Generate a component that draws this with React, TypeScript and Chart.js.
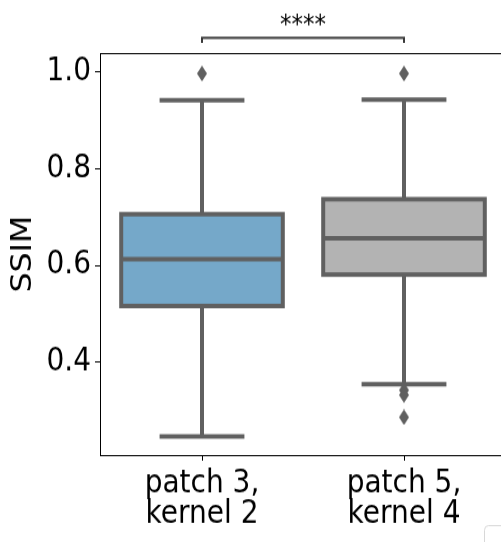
import { useEffect, useRef } from 'react';
import { Chart, registerables } from 'chart.js';

Chart.register(...registerables);

// Drawing surface: rendered at CANVAS_H and stretched vertically to VIEW_H.
const VIEW_W = 501;
const VIEW_H = 542;
const CANVAS_W = 520;
const CANVAS_H = 480;

const FONT = 'DejaVu Sans';

// Box plot summary per group
const categories = [
  ['patch 3,', 'kernel 2'],
  ['patch 5,', 'kernel 4'],
];
const lowerWhisker = [0.246, 0.354];
const lowerQuartile = [0.516, 0.581];
const medians = [0.613, 0.656];
const upperQuartile = [0.706, 0.737];
const upperWhisker = [0.942, 0.943];
const outliers = [[0.997], [0.997, 0.342, 0.332, 0.286]];

const yTicks = [0.4, 0.6, 0.8, 1.0];
const yMin = 0.2076;
const yMax = 1.0393;
const yTitle = 'SSIM';
const significance = '****';

const boxColors = ['#75a8c9', '#b3b3b3'];
const lineColor = '#606060';

function makeDiamond(w: number, h: number, color: string) {
  const c = document.createElement('canvas');
  c.width = w;
  c.height = h;
  const g = c.getContext('2d')!;
  g.fillStyle = color;
  g.beginPath();
  g.moveTo(w / 2, 0);
  g.lineTo(w, h / 2);
  g.lineTo(w / 2, h);
  g.lineTo(0, h / 2);
  g.closePath();
  g.fill();
  return c;
}

// Whiskers, caps, box outlines and medians, drawn right after the box fills
const boxLinesPlugin = {
  id: 'boxLines',
  afterDatasetDraw(chart: any, args: any) {
    if (args.index !== 0) return;
    const { ctx, scales } = chart;
    const x = scales.x;
    const y = scales.y;
    const step = x.getPixelForValue(1) - x.getPixelForValue(0);
    const halfBox = (step * 0.8) / 2;
    const halfCap = (step * 0.42) / 2;
    ctx.save();
    ctx.strokeStyle = lineColor;
    ctx.lineWidth = 4;
    ctx.lineCap = 'butt';
    categories.forEach((_, i) => {
      const cx = x.getPixelForValue(i);
      const yLo = y.getPixelForValue(lowerWhisker[i]);
      const yQ1 = y.getPixelForValue(lowerQuartile[i]);
      const yMed = y.getPixelForValue(medians[i]);
      const yQ3 = y.getPixelForValue(upperQuartile[i]);
      const yHi = y.getPixelForValue(upperWhisker[i]);
      ctx.beginPath();
      ctx.moveTo(cx, yQ3);
      ctx.lineTo(cx, yHi);
      ctx.moveTo(cx, yQ1);
      ctx.lineTo(cx, yLo);
      ctx.moveTo(cx - halfCap, yHi);
      ctx.lineTo(cx + halfCap, yHi);
      ctx.moveTo(cx - halfCap, yLo);
      ctx.lineTo(cx + halfCap, yLo);
      ctx.stroke();
      ctx.strokeRect(cx - halfBox, yQ3, halfBox * 2, yQ1 - yQ3);
      ctx.beginPath();
      ctx.moveTo(cx - halfBox, yMed);
      ctx.lineTo(cx + halfBox, yMed);
      ctx.stroke();
    });
    ctx.restore();
  },
};

// Axes frame, significance bracket and the small box in the corner
const framePlugin = {
  id: 'frame',
  afterDraw(chart: any) {
    const { ctx, chartArea, scales } = chart;
    const { left, top, right, bottom } = chartArea;
    ctx.save();
    ctx.strokeStyle = '#000';
    ctx.lineWidth = 1;
    ctx.strokeRect(left - 0.5, top + 0.5, right - left, bottom - top);

    const x0 = scales.x.getPixelForValue(0);
    const x1 = scales.x.getPixelForValue(1);
    const barY = top - 13.5;
    const legY = top - 9;
    ctx.strokeStyle = '#3a3a3a';
    ctx.lineWidth = 2;
    ctx.beginPath();
    ctx.moveTo(x0, legY);
    ctx.lineTo(x0, barY);
    ctx.lineTo(x1, barY);
    ctx.lineTo(x1, legY);
    ctx.stroke();

    ctx.fillStyle = '#000';
    ctx.font = `23px "${FONT}"`;
    ctx.textAlign = 'center';
    ctx.textBaseline = 'alphabetic';
    ctx.fillText(significance, (x0 + x1) / 2, top - 18);

    ctx.strokeStyle = '#d8d8d8';
    ctx.lineWidth = 1;
    ctx.beginPath();
    ctx.roundRect(484.5, 465.5, 40, 40, 4);
    ctx.stroke();
    ctx.restore();
  },
};

export default function App() {
  const canvasRef = useRef<HTMLCanvasElement | null>(null);

  useEffect(() => {
    const canvas = canvasRef.current;
    if (!canvas) return;
    const diamond = makeDiamond(10, 14, lineColor);
    const outlierPoints = outliers.flatMap((vals, i) => vals.map((v) => ({ x: i, y: v })));

    const chart = new Chart(canvas, {
      type: 'bar',
      data: {
        labels: categories as any,
        datasets: [
          {
            type: 'bar',
            data: categories.map((_, i) => [lowerQuartile[i], upperQuartile[i]]) as any,
            backgroundColor: boxColors,
            borderWidth: 0,
            barPercentage: 0.8,
            categoryPercentage: 1,
            order: 2,
          },
          {
            type: 'scatter',
            data: outlierPoints as any,
            parsing: false,
            pointStyle: diamond as any,
            pointRadius: 5,
            order: 1,
          } as any,
        ],
      },
      options: {
        animation: false,
        responsive: false,
        devicePixelRatio: 1,
        layout: { padding: { top: 47, right: 15, left: 0, bottom: 0 } },
        plugins: { legend: { display: false }, tooltip: { enabled: false } },
        scales: {
          x: {
            type: 'category',
            offset: true,
            grid: {
              display: true,
              drawOnChartArea: false,
              drawTicks: true,
              tickLength: 5,
              offset: false,
              color: '#000',
              lineWidth: 1,
            },
            border: { display: false },
            ticks: {
              color: '#000',
              font: { family: FONT, size: 28, lineHeight: 0.96 },
              padding: 7,
              maxRotation: 0,
              autoSkip: false,
            },
            afterFit: (s: any) => {
              s.height = 77;
            },
          },
          y: {
            min: yMin,
            max: yMax,
            afterBuildTicks: (s: any) => {
              s.ticks = yTicks.map((v) => ({ value: v }));
            },
            grid: {
              display: true,
              drawOnChartArea: false,
              drawTicks: true,
              tickLength: 6,
              color: '#000',
              lineWidth: 1,
            },
            border: { display: false },
            ticks: {
              color: '#000',
              font: { family: FONT, size: 28 },
              padding: 4,
              callback: (v: any) => Number(v).toFixed(1),
            },
            title: {
              display: true,
              text: yTitle,
              color: '#000',
              font: { family: FONT, size: 28 },
              padding: { top: 7, bottom: 0 },
            },
            afterFit: (s: any) => {
              s.width = 101;
            },
          },
        },
      },
      plugins: [boxLinesPlugin, framePlugin],
    });

    return () => chart.destroy();
  }, []);

  return (
    <div
      style={{
        position: 'fixed',
        left: 0,
        top: 0,
        width: VIEW_W,
        height: VIEW_H,
        overflow: 'hidden',
        background: '#fff',
      }}
    >
      <div
        style={{
          width: CANVAS_W,
          height: CANVAS_H,
          transform: `scaleY(${VIEW_H / CANVAS_H})`,
          transformOrigin: '0 0',
        }}
      >
        <canvas
          ref={canvasRef}
          width={CANVAS_W}
          height={CANVAS_H}
          style={{ width: CANVAS_W, height: CANVAS_H, display: 'block' }}
        />
      </div>
    </div>
  );
}
